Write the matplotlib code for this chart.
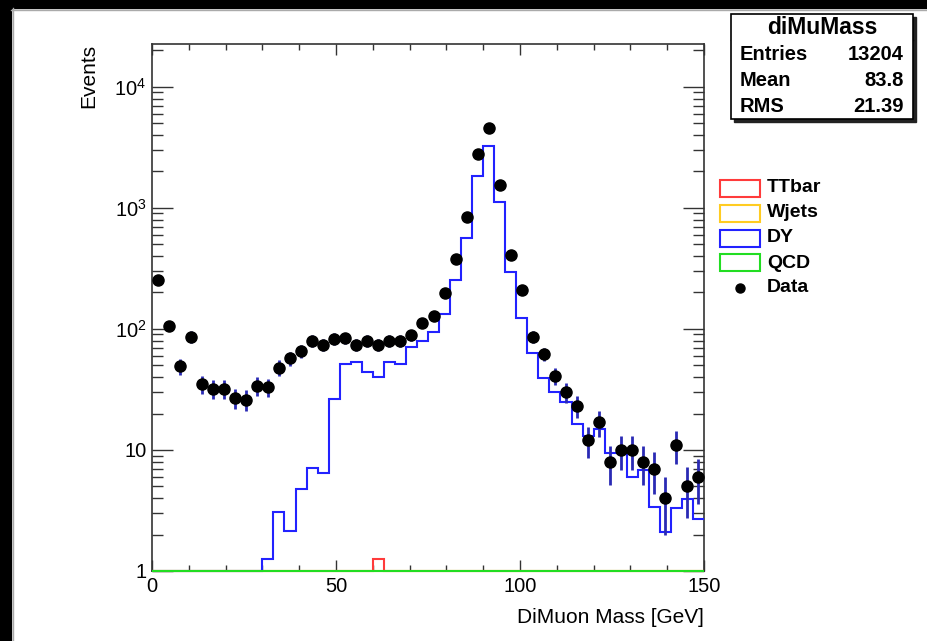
import numpy as np
import matplotlib
matplotlib.use("Agg")
import matplotlib.pyplot as plt
from matplotlib.patches import Rectangle
from matplotlib.lines import Line2D
from matplotlib.ticker import FixedLocator, MultipleLocator, NullFormatter

plt.rcParams["font.family"] = ["Liberation Sans", "DejaVu Sans"]
plt.rcParams["mathtext.fontset"] = "custom"
plt.rcParams["mathtext.rm"] = "Liberation Sans"

# 3 GeV bins from 0 to 150
bin_edges = np.arange(0, 151, 3)

data_counts = [254, 106, 49, 86, 35, 32, 32, 27, 26, 34,
               33, 48, 57, 66, 80, 74, 83, 84, 74, 80,
               74, 80, 80, 89, 112, 128, 199, 379, 843, 2793,
               4580, 1549, 409, 210, 86, 62, 41, 30, 23, 12,
               17, 8, 10, 10, 8, 7, 4, 11, 5, 6]

dy_counts = [0, 0, 0, 0, 0, 0, 0, 0, 0, 0,
             1.25, 3.1, 2.15, 4.8, 7.1, 6.5, 26.5, 51, 53, 44,
             40, 53, 51, 71, 80, 94, 133, 254, 565, 1840,
             3240, 1120, 297, 123, 63, 39, 30, 25, 16.4, 13,
             15, 9.4, 9.4, 6.0, 6.8, 3.4, 2.1, 3.3, 3.9, 2.7]

ttbar_counts = [0.0] * 20 + [1.25] + [0.0] * 29
wjets_counts = [0.0] * 50
qcd_counts = [0.0] * 50

stats_rows = [("Entries", "13204"), ("Mean", "83.8"), ("RMS", "21.39")]
legend_names = ["TTbar", "Wjets", "DY", "QCD", "Data"]

W, H = 928, 641


def fx(px):
    return px / W


def fy(py):
    return 1 - py / H


fig = plt.figure(figsize=(W / 100, H / 100), dpi=100)
ax = fig.add_axes([fx(152), fy(571), (704 - 152) / W, (571 - 44) / H])

ymin, ymax = 1.0, 2.26e4
ax.set_yscale("log")
ax.set_xlim(0, 150)
ax.set_ylim(ymin, ymax)

hist_styles = [
    (ttbar_counts, "#ff3b3b"),
    (wjets_counts, "#ffcc22"),
    (dy_counts, "#2222ff"),
    (qcd_counts, "#22dd22"),
]
for counts, color in hist_styles:
    # empty bins sit on the floor of the log axis
    vals = np.clip(np.asarray(counts, dtype=float), ymin, None)
    ax.stairs(vals, bin_edges, baseline=None, color=color, lw=1.5,
              clip_on=False, zorder=3)

centers = 0.5 * (bin_edges[:-1] + bin_edges[1:])
counts = np.asarray(data_counts, dtype=float)
ax.errorbar(centers, counts, yerr=np.sqrt(counts), fmt="o", color="black",
            ecolor="#2a2ab4", elinewidth=2, markersize=8, capsize=0,
            zorder=5)

# ROOT-like frame: inward ticks on all four sides
ax.xaxis.set_major_locator(FixedLocator([0, 50, 100, 150]))
ax.xaxis.set_minor_locator(MultipleLocator(10))
major_y = [1, 10, 100, 1000, 10000]
minor_y = [m * 10 ** e for e in range(0, 5) for m in range(2, 10)]
ax.yaxis.set_major_locator(FixedLocator(major_y))
ax.yaxis.set_minor_locator(FixedLocator(minor_y))
ax.yaxis.set_minor_formatter(NullFormatter())
ax.set_xticklabels(["0", "50", "100", "150"])
ax.set_yticklabels(["1", "10", r"$\mathregular{10^{2}}$",
                    r"$\mathregular{10^{3}}$", r"$\mathregular{10^{4}}$"])

ax.tick_params(axis="both", which="both", direction="in", top=True,
               right=True, colors="#333333", width=1.0, labelsize=14.5,
               labelcolor="black")
ax.tick_params(axis="x", which="major", length=8, pad=4)
ax.tick_params(axis="x", which="minor", length=4.5)
ax.tick_params(axis="y", which="major", length=15, pad=4)
ax.tick_params(axis="y", which="minor", length=8)
for spine in ax.spines.values():
    spine.set_color("#333333")
    spine.set_linewidth(1.2)

ax.set_xlabel("DiMuon Mass [GeV]", fontsize=15, loc="right")
ax.xaxis.set_label_coords(1.0, -0.07)
ax.set_ylabel("Events", fontsize=15, loc="top")
ax.yaxis.set_label_coords(-0.098, 1.0)

# canvas border
fig.patches.append(Rectangle((0, fy(8)), 1, 8 / H, transform=fig.transFigure,
                             color="black", zorder=0))
fig.patches.append(Rectangle((0, 0), 11 / W, 1, transform=fig.transFigure,
                             color="black", zorder=0))
fig.add_artist(Line2D([fx(11), 1], [fy(10), fy(10)], color="#aaaaaa", lw=1))
fig.add_artist(Line2D([fx(13), fx(13)], [0, fy(8)], color="#aaaaaa", lw=1))

# statistics box
bx0, bx1, by0, by1 = 731, 913, 14, 119
fig.patches.append(Rectangle((fx(bx0 + 3), fy(by1 + 3)), (bx1 - bx0) / W,
                             (by1 - by0) / H, transform=fig.transFigure,
                             color="#222222", zorder=1))
fig.patches.append(Rectangle((fx(bx0), fy(by1)), (bx1 - bx0) / W,
                             (by1 - by0) / H, transform=fig.transFigure,
                             facecolor="white", edgecolor="black", lw=1.2,
                             zorder=2))
fig.add_artist(Line2D([fx(bx0), fx(bx1)], [fy(40), fy(40)], color="black",
                      lw=1.0))
fig.text(fx(822), fy(28), "diMuMass", ha="center", va="center",
         fontsize=16.5, fontweight="bold")
for (name, value), py in zip(stats_rows, [54, 81, 107]):
    fig.text(fx(740), fy(py), name, ha="left", va="center", fontsize=14.5,
             fontweight="bold")
    fig.text(fx(904), fy(py), value, ha="right", va="center", fontsize=14.5,
             fontweight="bold")

# legend
legend_colors = ["#ff3b3b", "#ffcc22", "#2222ff", "#22dd22"]
row_y = [188, 213, 238, 263, 288]
for name, color, py in zip(legend_names[:4], legend_colors, row_y[:4]):
    fig.patches.append(Rectangle((fx(720), fy(py + 8.5)), 40 / W, 17 / H,
                                 transform=fig.transFigure, facecolor="none",
                                 edgecolor=color, lw=1.5, zorder=3))
    fig.text(fx(767), fy(py), name, ha="left", va="center", fontsize=14,
             fontweight="bold")
fig.add_artist(Line2D([fx(740)], [fy(row_y[4])], marker="o", color="black",
                      markersize=6.5, linestyle="none"))
fig.text(fx(767), fy(row_y[4]), legend_names[4], ha="left", va="center",
         fontsize=14, fontweight="bold")

fig.savefig("out.png", dpi=100)
